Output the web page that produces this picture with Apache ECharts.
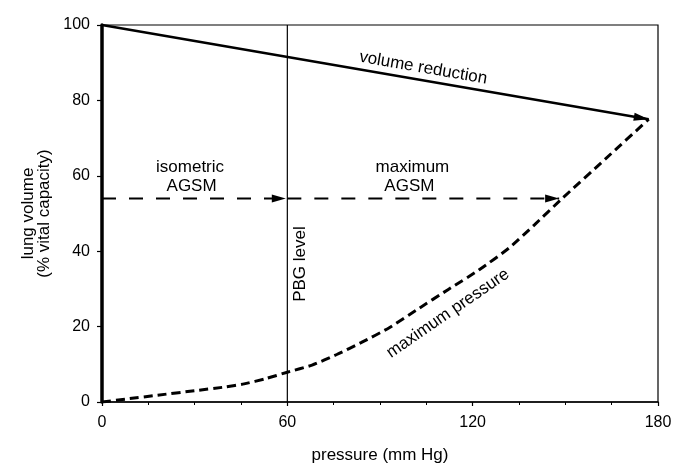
<!DOCTYPE html>
<html><head><meta charset="utf-8">
<script src="https://cdn.jsdelivr.net/npm/echarts@6/dist/echarts.min.js"></script>
<style>html,body{margin:0;padding:0;background:#fff}#c{width:676px;height:469px}</style>
</head><body><div id="c"></div>
<script>
// ---- data ----
const pressureTicks = [0, 60, 120, 180];
const volumeTicks = [0, 20, 40, 60, 80, 100];
const volumeReduction = [[0, 100], [177, 75]];
const isometricAGSM = [[0, 54], [59.5, 54]];
const maximumAGSM = [[60, 54], [148, 54]];
const pbgLevel = [[60, 0], [60, 100]];
const maximumPressure = [[0, 0], [8, 0.8], [18, 1.8], [30, 3], [40, 4], [46, 4.8], [53, 6.2], [60, 7.9], [68, 9.8], [76, 12.6], [84, 15.8], [93, 19.7], [102, 24.5], [112, 29.8], [122, 35], [132, 41], [140, 47], [149, 54], [163, 64.5], [177, 75]];
const annotationTexts = ['isometric', 'AGSM', 'maximum', 'AGSM', 'PBG level', 'maximum pressure', 'volume reduction'];

// ---- layout / style ----
const FONT = '"Liberation Sans", Arial, Helvetica, sans-serif';
const annotationPlaces = [
  {at: [28.5, 62.2], rot: 0},
  {at: [29, 57.3], rot: 0},
  {at: [100.5, 62.2], rot: 0},
  {at: [99.5, 57.3], rot: 0},
  {at: [64.2, 36.6], rot: 90},
  {at: [112, 23.5], rot: 34.5},
  {at: [104, 88.6], rot: 'line'}
];

const chart = echarts.init(document.getElementById('c'), null, {renderer: 'canvas'});

const lineSeries = (data, width, type, smooth) => ({
  type: 'line', data: data, showSymbol: false, symbol: 'none', silent: true, smooth: smooth || false,
  lineStyle: {color: '#000', width: width, type: type || 'solid'}, z: 3
});

chart.setOption({
  animation: false,
  backgroundColor: '#fff',
  grid: {left: 102, right: 18, top: 25, bottom: 64, show: true, borderColor: '#000', borderWidth: 1.2},
  xAxis: {
    type: 'value', min: pressureTicks[0], max: pressureTicks[pressureTicks.length - 1],
    interval: pressureTicks[1] - pressureTicks[0],
    name: 'pressure (mm Hg)', nameLocation: 'middle', nameGap: 45,
    nameTextStyle: {color: '#000', fontSize: 17, fontFamily: FONT},
    axisLine: {onZero: false, lineStyle: {color: '#000', width: 1.5}},
    axisTick: {length: 4, lineStyle: {color: '#000', width: 1.2}},
    minorTick: {show: true, splitNumber: 4, length: 3, lineStyle: {color: '#000', width: 1}},
    splitLine: {show: false},
    axisLabel: {color: '#000', fontSize: 16, margin: 13, fontFamily: FONT}
  },
  yAxis: {
    type: 'value', min: volumeTicks[0], max: volumeTicks[volumeTicks.length - 1],
    interval: volumeTicks[1] - volumeTicks[0],
    name: 'lung volume\n(% vital capacity)', nameLocation: 'middle', nameGap: 50, nameRotate: 90,
    nameTextStyle: {color: '#000', fontSize: 17, fontFamily: FONT, lineHeight: 16},
    axisLine: {onZero: false, lineStyle: {color: '#000', width: 3.5}},
    axisTick: {length: 5, lineStyle: {color: '#000', width: 1.2}},
    splitLine: {show: false},
    axisLabel: {color: '#000', fontSize: 16, margin: 12, fontFamily: FONT}
  },
  series: [
    lineSeries(pbgLevel, 1.2),
    lineSeries(volumeReduction, 2.5),
    lineSeries(isometricAGSM, 2, [14, 13]),
    lineSeries(maximumAGSM, 2, [14, 13]),
    lineSeries(maximumPressure, 3, [9, 5], 0.2)
  ]
});

function px(p) { return chart.convertToPixel({gridIndex: 0}, p); }

function arrowHead(pts, len, wid) {
  const a = px(pts[pts.length - 2]), t = px(pts[pts.length - 1]);
  const dx = t[0] - a[0], dy = t[1] - a[1], L = Math.hypot(dx, dy);
  const ux = dx / L, uy = dy / L, nx = -uy, ny = ux;
  const bx = t[0] - ux * len, by = t[1] - uy * len;
  return {
    type: 'polygon', z: 10,
    shape: {points: [t, [bx + nx * wid / 2, by + ny * wid / 2], [bx - nx * wid / 2, by - ny * wid / 2]]},
    style: {fill: '#000'}
  };
}

const a0 = px(volumeReduction[0]), a1 = px(volumeReduction[1]);
const lineAngle = Math.atan2(-(a1[1] - a0[1]), a1[0] - a0[0]);

const graphics = [
  arrowHead(volumeReduction, 15, 8),
  arrowHead(isometricAGSM, 14, 8),
  arrowHead(maximumAGSM, 14, 8)
];
annotationTexts.forEach((t, i) => {
  const pl = annotationPlaces[i];
  const p = px(pl.at);
  const rot = pl.rot === 'line' ? lineAngle : pl.rot * Math.PI / 180;
  graphics.push({
    type: 'text', x: p[0], y: p[1], rotation: rot, z: 12,
    style: {text: t, fill: '#000', font: '17px ' + FONT,
      align: 'center', verticalAlign: 'middle', textAlign: 'center', textVerticalAlign: 'middle'}
  });
});
chart.setOption({graphic: graphics});
</script>
</body></html>
